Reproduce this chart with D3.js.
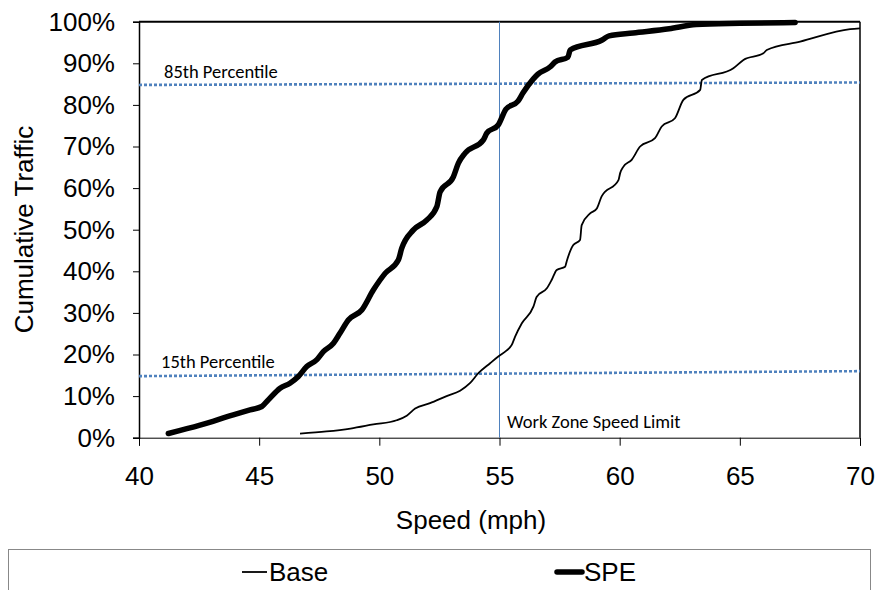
<!DOCTYPE html>
<html>
<head>
<meta charset="utf-8">
<script src="https://cdn.jsdelivr.net/npm/d3@7"></script>
<style>
  html, body { margin: 0; padding: 0; background: #fff; }
  svg { display: block; }
</style>
</head>
<body>
<svg id="chart" width="875" height="590"></svg>
<script>
// ---- data ----
const baseSpeed = [46.7,47.8,48.8,49.75,50.72,51.14,51.49,52.11,52.8,53.36,53.77,54.12,54.61,54.95,55.3,55.51,55.65,55.93,56.41,56.55,56.97,57.17,57.38,57.73,57.8,58.07,58.35,58.42,58.77,59.05,59.25,59.95,60.02,60.15,60.5,60.85,61.47,61.75,62.3,62.65,63.35,63.42,64.73,65.15,65.98,66.12,67.51,69.59,70.0];
const baseCum   = [1.0,1.5,2.2,3.2,4.2,5.3,7.0,8.3,10.0,11.3,13.1,15.5,17.9,19.5,21.0,22.3,24.3,27.5,31.5,33.9,35.9,37.9,40.3,41.1,42.5,46.3,47.5,51.1,53.9,55.1,58.0,61.9,63.6,65.1,66.8,70.0,72.0,74.8,76.8,81.2,83.6,86.0,88.8,90.8,92.4,93.2,95.2,98.2,98.4];
const speSpeed  = [41.22,42.54,43.92,44.62,45.11,45.38,45.87,46.28,46.63,46.98,47.39,47.67,48.09,48.36,48.71,49.27,49.75,50.24,50.79,50.93,51.41,51.97,52.39,52.53,53.08,53.29,53.57,54.33,54.47,54.95,55.27,55.77,55.98,56.40,56.60,57.10,57.31,57.85,57.94,59.27,59.56,60.56,62.06,63.18,65.0,67.3];
const speCum    = [1.0,3.0,5.5,6.7,7.5,9.1,11.9,13.1,14.7,17.1,18.7,20.7,22.7,25.1,28.3,30.7,35.5,39.5,42.7,45.5,49.9,52.3,55.5,59.1,62.7,66.0,68.4,71.6,73.2,75.2,79.0,80.9,82.9,86.2,87.4,89.1,90.3,91.5,93.2,95.6,96.6,97.3,98.3,99.3,99.6,99.8];
const p85Speed = [40, 70];
const p85Cum   = [84.8, 85.4];
const p15Speed = [40, 70];
const p15Cum   = [14.8, 16.0];
const speedLimit = 55;
const xTicks = [40,45,50,55,60,65,70];
const yTicks = [0,10,20,30,40,50,60,70,80,90,100];
const seriesNames = ["Base", "SPE"];

// ---- layout ----
const svg = d3.select("#chart");
const L = 139, R = 860, T = 21.7, B = 437.7;
const x = d3.scaleLinear().domain([40, 70]).range([L, R]);
const y = d3.scaleLinear().domain([0, 100]).range([B, T]);
const font = "'Liberation Sans', Arial, sans-serif";
const labelFont = "Carlito, 'Open Sans', 'DejaVu Sans', sans-serif";
const blue = "#4f81bd";
const fs = 26;

svg.append("defs").append("clipPath").attr("id", "clip")
  .append("rect").attr("x", L).attr("y", T - 3).attr("width", R - L + 2).attr("height", B - T + 3);

// plot frame (top and right)
svg.append("line").attr("x1", L).attr("x2", R).attr("y1", T).attr("y2", T)
  .attr("stroke", "#000").attr("stroke-width", 2);
svg.append("line").attr("x1", R).attr("x2", R).attr("y1", T).attr("y2", B)
  .attr("stroke", "#000").attr("stroke-width", 1.5);

// axes
const yAxis = d3.axisLeft(y).tickValues(yTicks).tickFormat(d => d + "%").tickSize(6).tickPadding(18);
const gy = svg.append("g").attr("transform", `translate(${L},0)`).call(yAxis);
gy.selectAll("text").attr("font-family", font).attr("font-size", fs).attr("fill", "#000");
gy.selectAll("line, path").attr("stroke", "#000");
gy.select(".domain").attr("stroke-width", 1.5);

const xAxis = d3.axisBottom(x).tickValues(xTicks).tickFormat(d3.format("d")).tickSize(8).tickPadding(21);
const gx = svg.append("g").attr("transform", `translate(0,${B})`).call(xAxis);
gx.selectAll("text").attr("font-family", font).attr("font-size", fs).attr("fill", "#000");
gx.selectAll("line, path").attr("stroke", "#000");

// axis titles
svg.append("text").attr("x", 471).attr("y", 529).attr("text-anchor", "middle")
  .attr("font-family", font).attr("font-size", fs).text("Speed (mph)");
svg.append("text").attr("transform", `translate(33,229.5) rotate(-90)`).attr("text-anchor", "middle")
  .attr("font-family", font).attr("font-size", fs).text("Cumulative Traffic");

// speed limit line
svg.append("line").attr("x1", x(speedLimit)).attr("x2", x(speedLimit)).attr("y1", T).attr("y2", B)
  .attr("stroke", blue).attr("stroke-width", 1);

// percentile lines
const lineGen = d3.line().x(d => x(d[0])).y(d => y(d[1]));
const g = svg.append("g").attr("clip-path", "url(#clip)");
g.append("path").datum(d3.zip(p85Speed, p85Cum)).attr("d", lineGen)
  .attr("fill", "none").attr("stroke", blue).attr("stroke-width", 2.6).attr("stroke-dasharray", "3,2");
g.append("path").datum(d3.zip(p15Speed, p15Cum)).attr("d", lineGen)
  .attr("fill", "none").attr("stroke", blue).attr("stroke-width", 2.6).attr("stroke-dasharray", "3,2");

// series
const curveGen = d3.line().x(d => x(d[0])).y(d => y(d[1])).curve(d3.curveMonotoneX);
g.append("path").datum(d3.zip(baseSpeed, baseCum)).attr("d", curveGen)
  .attr("fill", "none").attr("stroke", "#000").attr("stroke-width", 1.8).attr("stroke-linejoin", "round");
g.append("path").datum(d3.zip(speSpeed, speCum)).attr("d", curveGen)
  .attr("fill", "none").attr("stroke", "#000").attr("stroke-width", 5.5)
  .attr("stroke-linejoin", "round").attr("stroke-linecap", "round");

// annotations
svg.append("text").attr("x", 164).attr("y", 78).attr("font-family", labelFont).attr("font-size", 18.5)
  .text("85th Percentile");
svg.append("text").attr("x", 161).attr("y", 368).attr("font-family", labelFont).attr("font-size", 18.5)
  .text("15th Percentile");
svg.append("text").attr("x", 507).attr("y", 428).attr("font-family", labelFont).attr("font-size", 18.5)
  .text("Work Zone Speed Limit");

// legend
svg.append("rect").attr("x", 8.5).attr("y", 549.5).attr("width", 862).attr("height", 50)
  .attr("fill", "none").attr("stroke", "#888").attr("stroke-width", 1);
const legendItems = [
  { name: seriesNames[0], lx: 242, width: 1.8 },
  { name: seriesNames[1], lx: 557, width: 5.5 }
];
legendItems.forEach(it => {
  svg.append("line").attr("x1", it.lx).attr("x2", it.lx + 25).attr("y1", 572).attr("y2", 572)
    .attr("stroke", "#000").attr("stroke-width", it.width).attr("stroke-linecap", it.width > 3 ? "round" : "butt");
  svg.append("text").attr("x", it.lx + 27).attr("y", 581).attr("font-family", font).attr("font-size", fs)
    .text(it.name);
});
</script>
</body>
</html>
